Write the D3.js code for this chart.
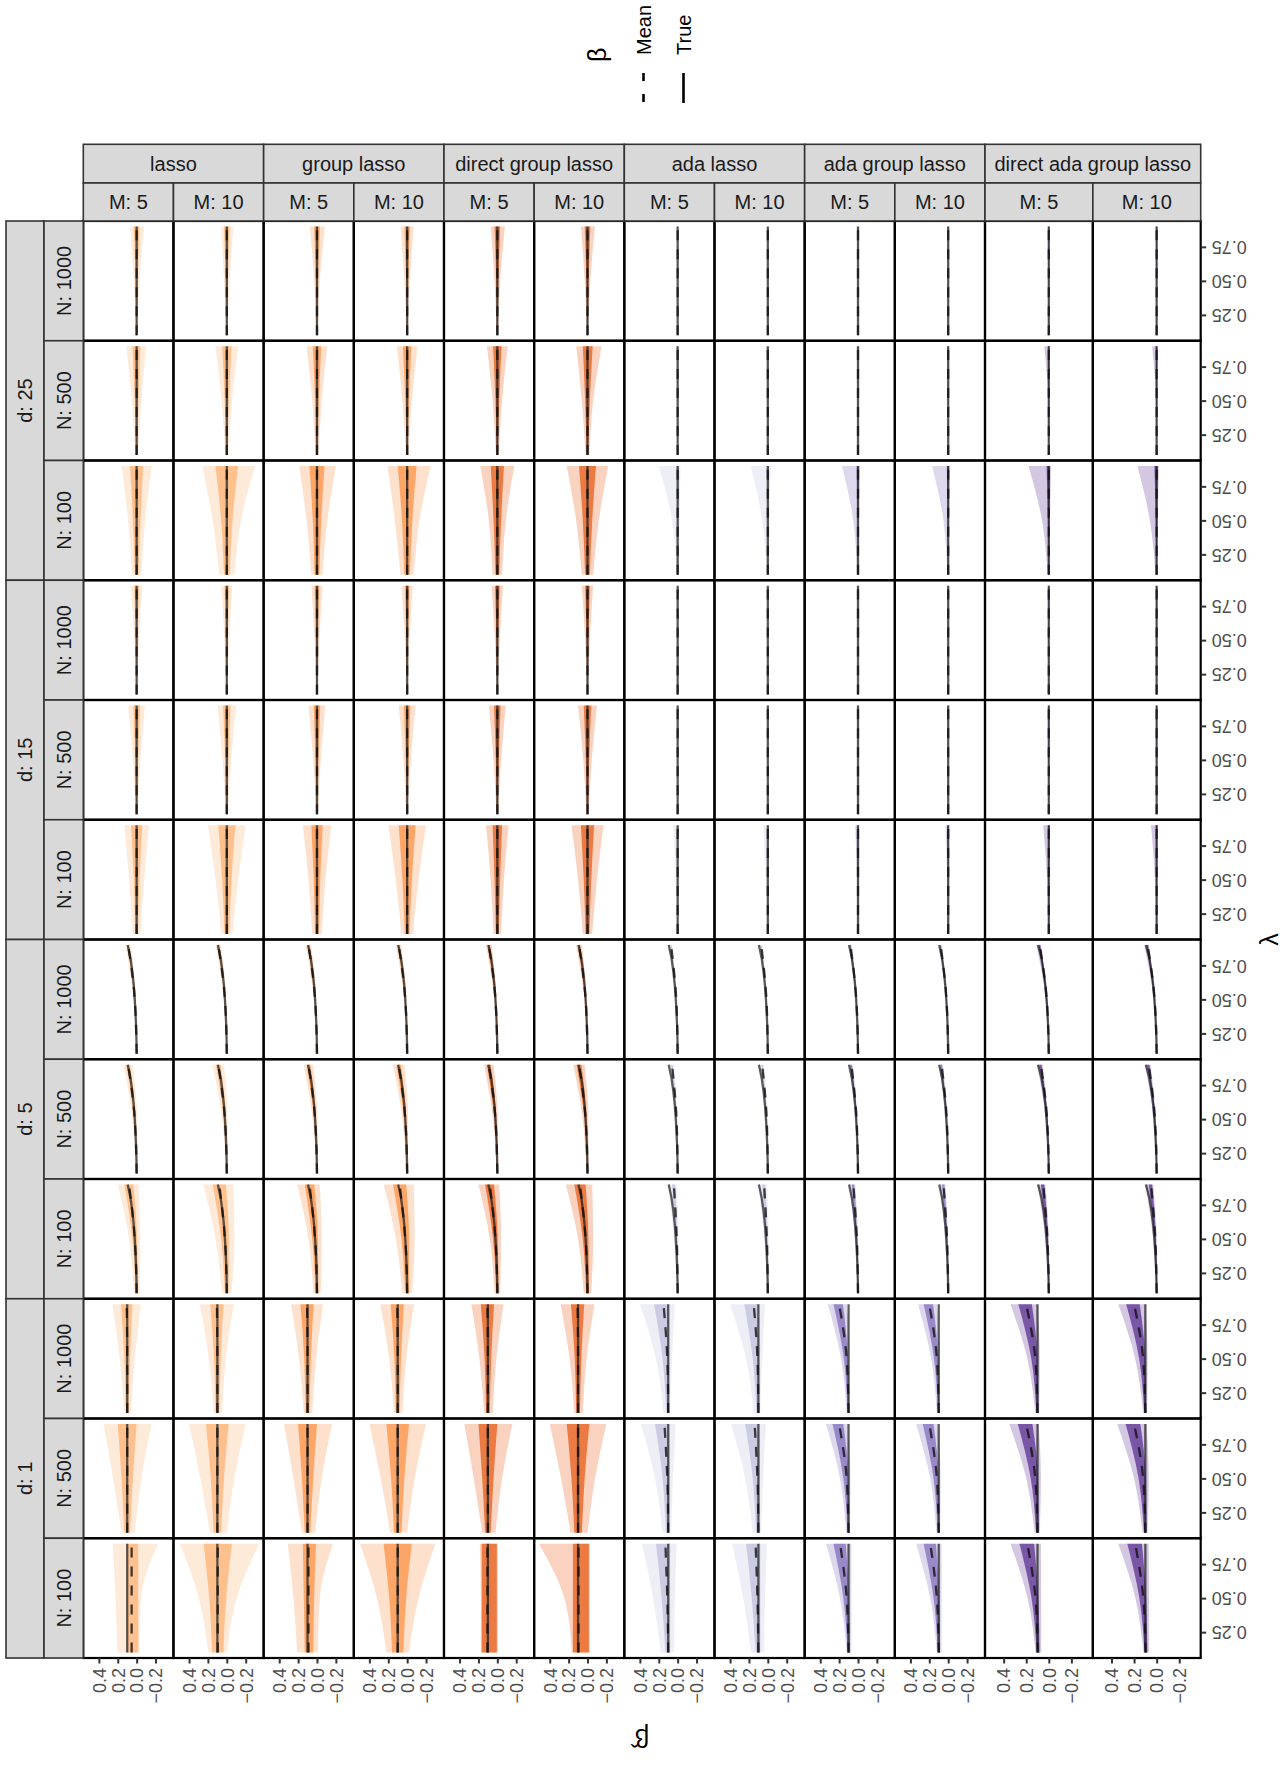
<!DOCTYPE html>
<html>
<head>
<meta charset="utf-8">
<script src="https://cdn.jsdelivr.net/npm/d3@7"></script>
<style>
  body { margin: 0; background: #fff; }
  text { font-family: "Liberation Sans", Arial, sans-serif; }
</style>
</head>
<body>
<svg id="chart" width="1288" height="1765"></svg>
<script>
// ---- facet levels ----
const methods = ["lasso", "group lasso", "direct group lasso", "ada lasso", "ada group lasso", "direct ada group lasso"];
const methodColors = ["#FDAE6B", "#FD8D3C", "#E6550D", "#BCBDDC", "#7E68B8", "#54278F"];
const mLevels = [5, 10];
const dLevels = [25, 15, 5, 1];
const nLevels = [1000, 500, 100];

// ---- axes ----
const betaTicks = [0.4, 0.2, 0.0, -0.2];
const lambdaTicks = [0.25, 0.50, 0.75];
const lambdaGrid = [0.1, 0.2, 0.3, 0.4, 0.5, 0.6, 0.7, 0.8, 0.9];
const bandLambdas = [0.1, 0.5, 0.9];

// true coefficient path for each d (order of dLevels)
const trueBeta = [
  [0, 0, 0, 0, 0, 0, 0, 0, 0],
  [0, 0, 0, 0, 0, 0, 0, 0, 0],
  [0, 0.002, 0.006, 0.012, 0.02, 0.03, 0.045, 0.065, 0.095],
  [0.1, 0.1, 0.1, 0.1, 0.1, 0.1, 0.1, 0.1, 0.1]
];

// Estimates per panel, rows ordered d (25,15,5,1) x N (1000,500,100) x M (5,10).
// Each row: mean at bandLambdas | outer spread below | outer spread above | inner spread below | inner spread above
const lassoEst = [
  [0,0,0, .006,.03,.08, .006,.03,.07, .003,.012,.03, .003,.012,.03],
  [0,0,0, .006,.03,.07, .006,.03,.06, .003,.012,.03, .003,.012,.03],
  [0,0,0, .015,.05,.10, .015,.05,.11, .006,.02,.04, .006,.02,.045],
  [0,0,0, .015,.055,.12, .015,.055,.12, .006,.022,.05, .006,.022,.05],
  [0,0,0, .05,.09,.16, .05,.09,.16, .02,.04,.07, .02,.04,.07],
  [0,0,0, .08,.15,.30, .08,.15,.26, .03,.06,.12, .03,.06,.12],
  [0,0,0, .005,.025,.06, .005,.025,.06, .002,.01,.025, .002,.01,.025],
  [0,0,0, .005,.025,.06, .005,.025,.06, .002,.01,.025, .002,.01,.025],
  [0,0,0, .01,.04,.09, .01,.04,.09, .004,.016,.035, .004,.016,.035],
  [0,0,0, .012,.045,.10, .012,.045,.10, .005,.018,.04, .005,.018,.04],
  [0,0,0, .04,.08,.13, .04,.08,.13, .015,.03,.06, .015,.03,.06],
  [0,0,0, .06,.12,.20, .06,.12,.20, .025,.05,.09, .025,.05,.09],
  [0,.02,.09, .004,.012,.03, .004,.012,.03, .002,.005,.012, .002,.005,.012],
  [0,.02,.09, .004,.012,.03, .004,.012,.03, .002,.005,.012, .002,.005,.012],
  [0,.02,.09, .008,.025,.05, .008,.025,.05, .003,.01,.02, .003,.01,.02],
  [0,.02,.09, .01,.03,.06, .01,.03,.06, .004,.012,.025, .004,.012,.025],
  [0,.02,.08, .03,.06,.10, .03,.06,.12, .012,.025,.045, .012,.025,.05],
  [0,.02,.08, .05,.10,.15, .05,.10,.17, .02,.04,.07, .02,.04,.07],
  [.1,.1,.105, .04,.08,.15, .03,.08,.15, .015,.03,.06, .015,.03,.06],
  [.1,.1,.105, .05,.09,.18, .04,.09,.18, .02,.035,.07, .02,.035,.07],
  [.1,.1,.1, .08,.15,.26, .06,.15,.25, .03,.06,.10, .03,.06,.10],
  [.1,.1,.1, .10,.18,.30, .08,.18,.30, .04,.07,.12, .04,.07,.12],
  [.053,.053,.053, .08,.10,.28, .15,.17,.20, .07,.07,.07, .05,.05,.05],
  [.096,.096,.096, .10,.20,.44, .10,.20,.40, .06,.09,.15, .06,.09,.15]
];
const groupLassoEst = [
  [0,0,0, .006,.03,.085, .006,.03,.075, .003,.012,.03, .003,.012,.03],
  [0,0,0, .006,.03,.07, .006,.03,.07, .003,.012,.03, .003,.012,.03],
  [0,0,0, .015,.05,.11, .015,.05,.11, .006,.02,.045, .006,.02,.045],
  [0,0,0, .015,.05,.11, .015,.05,.11, .006,.02,.045, .006,.02,.045],
  [0,0,0, .06,.11,.20, .06,.11,.19, .025,.045,.08, .025,.045,.08],
  [0,0,0, .07,.13,.25, .07,.13,.21, .03,.055,.10, .03,.055,.10],
  [0,0,0, .005,.025,.06, .005,.025,.06, .002,.01,.025, .002,.01,.025],
  [0,0,0, .005,.025,.06, .005,.025,.06, .002,.01,.025, .002,.01,.025],
  [0,0,0, .01,.04,.09, .01,.04,.09, .004,.016,.035, .004,.016,.035],
  [0,0,0, .01,.04,.09, .01,.04,.09, .004,.016,.035, .004,.016,.035],
  [0,0,0, .05,.09,.15, .05,.09,.15, .02,.035,.06, .02,.035,.06],
  [0,0,0, .06,.12,.20, .06,.12,.20, .025,.05,.09, .025,.05,.09],
  [0,.02,.09, .004,.012,.03, .004,.012,.03, .002,.005,.012, .002,.005,.012],
  [0,.02,.09, .004,.012,.03, .004,.012,.03, .002,.005,.012, .002,.005,.012],
  [0,.02,.09, .008,.025,.05, .008,.025,.05, .003,.01,.02, .003,.01,.02],
  [0,.02,.09, .01,.03,.06, .01,.03,.06, .004,.012,.025, .004,.012,.025],
  [0,.02,.08, .04,.07,.11, .04,.07,.13, .015,.03,.05, .015,.03,.05],
  [0,.02,.08, .05,.10,.15, .05,.10,.17, .02,.04,.07, .02,.04,.07],
  [.1,.1,.105, .05,.09,.17, .04,.09,.17, .02,.035,.07, .02,.035,.07],
  [.1,.1,.105, .05,.09,.18, .04,.09,.18, .02,.035,.07, .02,.035,.07],
  [.1,.1,.1, .08,.15,.26, .06,.15,.25, .03,.06,.10, .03,.06,.10],
  [.1,.1,.1, .10,.18,.30, .08,.18,.30, .04,.07,.12, .04,.07,.12],
  [.09,.09,.09, .10,.12,.26, .12,.16,.22, .05,.06,.08, .04,.05,.06],
  [.1,.1,.1, .12,.22,.40, .12,.22,.40, .06,.09,.15, .06,.09,.15]
];
const directGroupLassoEst = [
  [0,0,0, .006,.03,.08, .006,.03,.07, .003,.012,.03, .003,.012,.03],
  [0,0,0, .006,.03,.08, .006,.03,.07, .003,.012,.03, .003,.012,.03],
  [0,0,0, .015,.05,.11, .015,.05,.11, .006,.02,.045, .006,.02,.045],
  [0,0,0, .02,.06,.15, .02,.06,.12, .008,.025,.055, .008,.025,.05],
  [0,0,0, .05,.09,.18, .05,.09,.18, .02,.04,.07, .02,.04,.07],
  [0,0,0, .06,.12,.22, .06,.12,.22, .025,.05,.09, .025,.05,.09],
  [0,0,0, .005,.025,.06, .005,.025,.06, .002,.01,.025, .002,.01,.025],
  [0,0,0, .005,.025,.06, .005,.025,.06, .002,.01,.025, .002,.01,.025],
  [0,0,0, .01,.04,.09, .01,.04,.09, .004,.016,.035, .004,.016,.035],
  [0,0,0, .012,.045,.10, .012,.045,.10, .005,.018,.04, .005,.018,.04],
  [0,0,0, .04,.07,.12, .04,.07,.12, .015,.03,.05, .015,.03,.05],
  [0,0,0, .05,.10,.17, .05,.10,.17, .02,.04,.07, .02,.04,.07],
  [0,.02,.09, .004,.012,.03, .004,.012,.03, .002,.005,.012, .002,.005,.012],
  [0,.02,.09, .004,.012,.03, .004,.012,.03, .002,.005,.012, .002,.005,.012],
  [0,.02,.09, .008,.025,.05, .008,.025,.05, .003,.01,.02, .003,.01,.02],
  [0,.02,.09, .01,.03,.06, .01,.03,.06, .004,.012,.025, .004,.012,.025],
  [0,.02,.08, .03,.06,.10, .03,.06,.12, .012,.025,.045, .012,.025,.05],
  [0,.02,.08, .04,.08,.13, .04,.08,.15, .015,.03,.06, .015,.03,.06],
  [.1,.1,.105, .05,.09,.17, .04,.09,.17, .02,.035,.07, .02,.035,.07],
  [.1,.1,.105, .05,.09,.18, .04,.09,.18, .02,.035,.07, .02,.035,.07],
  [.1,.1,.1, .08,.15,.26, .06,.15,.25, .03,.06,.10, .03,.06,.10],
  [.1,.1,.1, .10,.18,.30, .08,.18,.30, .04,.07,.12, .04,.07,.12],
  [.105,.105,.105, .11,.11,.11, .07,.07,.08, .10,.10,.10, .06,.06,.06],
  [.095,.095,.095, .12,.12,.12, .07,.15,.42, .11,.11,.11, .06,.06,.06]
];
const adaLassoEst = [
  [0,0,0, .002,.003,.004, .002,.003,.004, .001,.002,.003, .001,.002,.003],
  [0,0,0, .002,.003,.004, .002,.003,.004, .001,.002,.003, .001,.002,.003],
  [0,0,0, .003,.005,.008, .003,.008,.02, .001,.002,.004, .001,.003,.006],
  [0,0,0, .003,.005,.008, .003,.008,.02, .001,.002,.004, .001,.003,.006],
  [0,0,0, .01,.02,.03, .01,.06,.20, .003,.006,.01, .003,.006,.012],
  [0,0,0, .01,.02,.03, .01,.06,.18, .003,.006,.01, .003,.006,.012],
  [0,0,0, .002,.003,.004, .002,.003,.004, .001,.002,.003, .001,.002,.003],
  [0,0,0, .002,.003,.004, .002,.003,.004, .001,.002,.003, .001,.002,.003],
  [0,0,0, .003,.004,.006, .003,.004,.008, .001,.002,.003, .001,.002,.004],
  [0,0,0, .003,.004,.006, .003,.004,.008, .001,.002,.003, .001,.002,.004],
  [0,0,0, .005,.01,.015, .005,.02,.05, .002,.004,.006, .002,.004,.006],
  [0,0,0, .005,.01,.015, .005,.02,.05, .002,.004,.006, .002,.004,.006],
  [0,.015,.07, .003,.006,.01, .003,.006,.02, .001,.003,.005, .001,.003,.008],
  [0,.015,.07, .003,.006,.01, .003,.006,.02, .001,.003,.005, .001,.003,.008],
  [0,.012,.06, .004,.01,.02, .004,.01,.03, .002,.004,.008, .002,.004,.01],
  [0,.012,.06, .004,.01,.02, .004,.01,.03, .002,.004,.008, .002,.004,.01],
  [0,.01,.04, .01,.02,.03, .01,.03,.06, .004,.008,.012, .004,.01,.02],
  [0,.01,.04, .01,.02,.03, .01,.03,.06, .004,.008,.012, .004,.01,.02],
  [.1,.11,.15, .02,.05,.12, .05,.12,.25, .008,.02,.05, .02,.05,.10],
  [.1,.11,.15, .02,.05,.12, .05,.12,.25, .008,.02,.05, .02,.05,.10],
  [.1,.11,.14, .03,.06,.12, .06,.13,.25, .01,.025,.05, .025,.05,.10],
  [.1,.11,.14, .03,.06,.12, .06,.13,.25, .01,.025,.05, .025,.05,.10],
  [.1,.11,.13, .06,.08,.12, .08,.15,.25, .02,.03,.05, .03,.06,.10],
  [.1,.11,.13, .06,.08,.12, .08,.15,.25, .02,.03,.05, .03,.06,.10]
];
const adaGroupLassoEst = [
  [0,0,0, .002,.003,.004, .002,.003,.004, .001,.002,.003, .001,.002,.003],
  [0,0,0, .002,.003,.004, .002,.003,.004, .001,.002,.003, .001,.002,.003],
  [0,0,0, .002,.003,.005, .002,.004,.01, .001,.002,.003, .001,.002,.004],
  [0,0,0, .002,.003,.005, .002,.004,.01, .001,.002,.003, .001,.002,.004],
  [0,0,0, .005,.01,.02, .01,.05,.17, .002,.004,.008, .003,.006,.015],
  [0,0,0, .005,.01,.02, .01,.05,.17, .002,.004,.008, .003,.006,.015],
  [0,0,0, .002,.003,.004, .002,.003,.004, .001,.002,.003, .001,.002,.003],
  [0,0,0, .002,.003,.004, .002,.003,.004, .001,.002,.003, .001,.002,.003],
  [0,0,0, .002,.003,.004, .002,.003,.006, .001,.002,.003, .001,.002,.003],
  [0,0,0, .002,.003,.004, .002,.003,.006, .001,.002,.003, .001,.002,.003],
  [0,0,0, .004,.006,.01, .004,.01,.03, .002,.003,.005, .002,.004,.006],
  [0,0,0, .004,.006,.01, .004,.01,.03, .002,.003,.005, .002,.004,.006],
  [0,.018,.08, .003,.006,.01, .003,.006,.015, .001,.003,.005, .001,.003,.006],
  [0,.018,.08, .003,.006,.01, .003,.006,.015, .001,.003,.005, .001,.003,.006],
  [0,.015,.07, .004,.008,.015, .004,.01,.025, .002,.004,.006, .002,.004,.01],
  [0,.015,.07, .004,.008,.015, .004,.01,.025, .002,.004,.006, .002,.004,.01],
  [0,.012,.05, .006,.012,.02, .006,.02,.04, .003,.006,.01, .003,.008,.015],
  [0,.012,.05, .006,.012,.02, .006,.02,.04, .003,.006,.01, .003,.008,.015],
  [.1,.12,.2, .01,.03,.08, .02,.06,.12, .005,.015,.04, .01,.03,.06],
  [.1,.12,.2, .01,.03,.08, .02,.06,.12, .005,.015,.04, .01,.03,.06],
  [.1,.12,.2, .015,.04,.09, .025,.07,.14, .007,.02,.045, .012,.035,.07],
  [.1,.12,.2, .015,.04,.09, .025,.07,.14, .007,.02,.045, .012,.035,.07],
  [.1,.12,.19, .03,.05,.12, .02,.07,.15, .015,.025,.06, .01,.035,.07],
  [.1,.12,.19, .03,.05,.12, .02,.07,.15, .015,.025,.06, .01,.035,.07]
];
const directAdaGroupLassoEst = [
  [0,0,0, .002,.003,.004, .002,.003,.004, .001,.002,.003, .001,.002,.003],
  [0,0,0, .002,.003,.004, .002,.003,.004, .001,.002,.003, .001,.002,.003],
  [0,0,0, .002,.003,.005, .002,.006,.04, .001,.002,.003, .001,.003,.006],
  [0,0,0, .002,.003,.005, .002,.006,.04, .001,.002,.003, .001,.003,.006],
  [0,0,0, .005,.01,.02, .01,.06,.18, .002,.004,.008, .003,.008,.02],
  [0,0,0, .005,.01,.02, .01,.06,.17, .002,.004,.008, .003,.008,.02],
  [0,0,0, .002,.003,.004, .002,.003,.004, .001,.002,.003, .001,.002,.003],
  [0,0,0, .002,.003,.004, .002,.003,.004, .001,.002,.003, .001,.002,.003],
  [0,0,0, .002,.003,.004, .002,.003,.006, .001,.002,.003, .001,.002,.003],
  [0,0,0, .002,.003,.004, .002,.003,.006, .001,.002,.003, .001,.002,.003],
  [0,0,0, .004,.006,.01, .004,.015,.05, .002,.003,.005, .002,.004,.006],
  [0,0,0, .004,.006,.01, .004,.015,.05, .002,.003,.005, .002,.004,.006],
  [0,.018,.08, .003,.006,.01, .003,.01,.03, .001,.003,.005, .001,.004,.01],
  [0,.018,.08, .003,.006,.01, .003,.01,.03, .001,.003,.005, .001,.004,.01],
  [0,.015,.07, .004,.008,.015, .004,.012,.035, .002,.004,.006, .002,.005,.012],
  [0,.015,.07, .004,.008,.015, .004,.012,.035, .002,.004,.006, .002,.005,.012],
  [0,.012,.05, .006,.012,.02, .006,.02,.05, .003,.006,.01, .003,.008,.02],
  [0,.012,.05, .006,.012,.02, .006,.02,.05, .003,.006,.01, .003,.008,.02],
  [.1,.12,.2, .015,.04,.1, .02,.07,.14, .007,.02,.05, .01,.035,.07],
  [.1,.12,.2, .015,.04,.1, .02,.07,.14, .007,.02,.05, .01,.035,.07],
  [.1,.12,.2, .02,.05,.11, .025,.08,.15, .01,.025,.055, .012,.04,.075],
  [.1,.12,.2, .02,.05,.11, .025,.08,.15, .01,.025,.055, .012,.04,.075],
  [.097,.118,.19, .03,.05,.12, .02,.07,.15, .015,.025,.06, .01,.035,.07],
  [.097,.118,.19, .03,.05,.12, .02,.07,.15, .015,.025,.06, .01,.035,.07]
];
const estimates = [lassoEst, groupLassoEst, directGroupLassoEst, adaLassoEst, adaGroupLassoEst, directAdaGroupLassoEst];

// ---- layout ----
const svg = d3.select("#chart");
const gridLeft = 83.3, gridTop = 221, rowH = 119.75;
const colWidths = [90.17, 90.17, 90.17, 90.17, 90.17, 90.17, 90.17, 90.17, 90.17, 90.17, 107.85, 107.85];
const colX = colWidths.reduce((acc, w, i) => { acc.push(acc[i] + w); return acc; }, [gridLeft]);
const nRows = dLevels.length * nLevels.length;
const gridRight = colX[colX.length - 1];
const gridBottom = gridTop + nRows * rowH;
const stripFill = "#D9D9D9", stripStroke = "#333333";
const tickColor = "#333333", labelColor = "#4D4D4D";

const betaScaleFor = c => d3.scaleLinear().domain([0.565, -0.39]).range([colX[c], colX[c + 1]]);
const lambdaScaleFor = r => d3.scaleLinear().domain([0.06, 0.94]).range([gridTop + (r + 1) * rowH, gridTop + r * rowH]);

const defs = svg.append("defs");
const panelsG = svg.append("g");

methods.forEach((method, mi) => {
  mLevels.forEach((mv, mj) => {
    const c = mi * 2 + mj;
    const xS = betaScaleFor(c);
    dLevels.forEach((dv, di) => {
      nLevels.forEach((nv, ni) => {
        const r = di * nLevels.length + ni;
        const yS = lambdaScaleFor(r);
        const row = estimates[mi][r * 2 + mj];
        const pts = bandLambdas.map((l, k) => ({
          l, m: row[k],
          oLo: row[k] - row[3 + k], oHi: row[k] + row[6 + k],
          iLo: row[k] - row[9 + k], iHi: row[k] + row[12 + k]
        }));
        const clipId = `clip-${c}-${r}`;
        defs.append("clipPath").attr("id", clipId).append("rect")
          .attr("x", colX[c]).attr("y", gridTop + r * rowH)
          .attr("width", colWidths[c]).attr("height", rowH);
        const g = panelsG.append("g").attr("clip-path", `url(#${clipId})`);
        const outer = d3.area().y(d => yS(d.l)).x0(d => xS(d.oLo)).x1(d => xS(d.oHi)).curve(d3.curveMonotoneY);
        const inner = d3.area().y(d => yS(d.l)).x0(d => xS(d.iLo)).x1(d => xS(d.iHi)).curve(d3.curveMonotoneY);
        g.append("path").datum(pts).attr("d", outer).attr("fill", methodColors[mi]).attr("fill-opacity", 0.26);
        g.append("path").datum(pts).attr("d", inner).attr("fill", methodColors[mi]).attr("fill-opacity", 0.7);
        // true coefficient path
        const tl = d3.line().x(d => xS(d.b)).y(d => yS(d.l));
        g.append("path").datum(lambdaGrid.map((l, k) => ({ l, b: trueBeta[di][k] })))
          .attr("d", tl).attr("fill", "none").attr("stroke", "#1a1a1a")
          .attr("stroke-opacity", 0.7).attr("stroke-width", 2.3);
        // mean of the estimates
        const ml = d3.line().x(d => xS(d.m)).y(d => yS(d.l)).curve(d3.curveMonotoneY);
        g.append("path").datum(pts).attr("d", ml).attr("fill", "none")
          .attr("stroke", "#111").attr("stroke-opacity", 0.8).attr("stroke-width", 2.3)
          .attr("stroke-dasharray", "10,9");
      });
    });
  });
});

// panel borders
for (let c = 0; c < colWidths.length; c++) {
  for (let r = 0; r < nRows; r++) {
    svg.append("rect").attr("x", colX[c]).attr("y", gridTop + r * rowH)
      .attr("width", colWidths[c]).attr("height", rowH)
      .attr("fill", "none").attr("stroke", "#000").attr("stroke-width", 2.2);
  }
}

// ---- top strips (method, then M) ----
const stripTop = 144.3, stripMid = 183, stripH1 = stripMid - stripTop, stripH2 = gridTop - stripMid;
methods.forEach((method, mi) => {
  const x0 = colX[mi * 2], x1 = colX[mi * 2 + 2];
  svg.append("rect").attr("x", x0).attr("y", stripTop).attr("width", x1 - x0).attr("height", stripH1)
    .attr("fill", stripFill).attr("stroke", stripStroke).attr("stroke-width", 1.6);
  svg.append("text").attr("x", (x0 + x1) / 2).attr("y", stripTop + stripH1 / 2).attr("dy", "0.35em")
    .attr("text-anchor", "middle").attr("font-size", 20).attr("fill", "#1a1a1a").text(method);
  mLevels.forEach((mv, mj) => {
    const c = mi * 2 + mj;
    svg.append("rect").attr("x", colX[c]).attr("y", stripMid).attr("width", colWidths[c]).attr("height", stripH2)
      .attr("fill", stripFill).attr("stroke", stripStroke).attr("stroke-width", 1.6);
    svg.append("text").attr("x", colX[c] + colWidths[c] / 2).attr("y", stripMid + stripH2 / 2).attr("dy", "0.35em")
      .attr("text-anchor", "middle").attr("font-size", 20).attr("fill", "#1a1a1a").text(`M: ${mv}`);
  });
});

// ---- left strips (d, then N) ----
const dStripX = 6, nStripX = 44;
dLevels.forEach((dv, di) => {
  const y0 = gridTop + di * nLevels.length * rowH, h = nLevels.length * rowH;
  svg.append("rect").attr("x", dStripX).attr("y", y0).attr("width", nStripX - dStripX).attr("height", h)
    .attr("fill", stripFill).attr("stroke", stripStroke).attr("stroke-width", 1.6);
  svg.append("text").attr("transform", `translate(${(dStripX + nStripX) / 2},${y0 + h / 2}) rotate(-90)`)
    .attr("dy", "0.35em").attr("text-anchor", "middle").attr("font-size", 20).attr("fill", "#1a1a1a").text(`d: ${dv}`);
  nLevels.forEach((nv, ni) => {
    const r = di * nLevels.length + ni;
    const y = gridTop + r * rowH;
    svg.append("rect").attr("x", nStripX).attr("y", y).attr("width", gridLeft - nStripX).attr("height", rowH)
      .attr("fill", stripFill).attr("stroke", stripStroke).attr("stroke-width", 1.6);
    svg.append("text").attr("transform", `translate(${(nStripX + gridLeft) / 2},${y + rowH / 2}) rotate(-90)`)
      .attr("dy", "0.35em").attr("text-anchor", "middle").attr("font-size", 20).attr("fill", "#1a1a1a").text(`N: ${nv}`);
  });
});

// ---- bottom axes (beta-hat) ----
const fmtBeta = d3.format(".1f");
colWidths.forEach((w, c) => {
  const ax = svg.append("g").attr("transform", `translate(0,${gridBottom})`)
    .call(d3.axisBottom(betaScaleFor(c)).tickValues(betaTicks).tickFormat(fmtBeta).tickSize(5.5).tickPadding(0));
  ax.select(".domain").remove();
  ax.selectAll(".tick line").attr("stroke", tickColor).attr("stroke-width", 2);
  ax.selectAll(".tick text")
    .attr("y", null).attr("dy", "0.35em")
    .attr("transform", "translate(0,10) rotate(-90)")
    .attr("text-anchor", "end").attr("font-size", 18).attr("fill", labelColor)
    .attr("font-family", "Liberation Sans, Arial, sans-serif");
});

// ---- right axes (lambda) ----
const fmtLambda = d3.format(".2f");
for (let r = 0; r < nRows; r++) {
  const ax = svg.append("g").attr("transform", `translate(${gridRight},0)`)
    .call(d3.axisRight(lambdaScaleFor(r)).tickValues(lambdaTicks).tickFormat(fmtLambda).tickSize(5.5).tickPadding(0));
  ax.select(".domain").remove();
  ax.selectAll(".tick line").attr("stroke", tickColor).attr("stroke-width", 2);
  ax.selectAll(".tick text")
    .attr("x", null).attr("dy", "0.35em")
    .attr("transform", "translate(11,0) rotate(180)")
    .attr("text-anchor", "end").attr("font-size", 18).attr("fill", labelColor)
    .attr("font-family", "Liberation Sans, Arial, sans-serif");
}

// ---- axis titles ----
svg.append("text").attr("transform", `translate(${(gridLeft + gridRight) / 2},1738) rotate(180)`)
  .attr("text-anchor", "middle").attr("dy", "0.35em").attr("font-size", 25).attr("fill", "#000").text("\u03B2\u0302");
svg.append("text").attr("transform", `translate(1269,${(gridTop + gridBottom) / 2}) rotate(-90)`)
  .attr("text-anchor", "middle").attr("dy", "0.35em").attr("font-size", 25).attr("fill", "#000").text("\u03BB");

// ---- legend ----
const legend = svg.append("g");
legend.append("text").attr("transform", "translate(597,62) rotate(-90)")
  .attr("dy", "0.35em").attr("font-size", 25).attr("fill", "#000").text("\u03B2");
const legendItems = [
  { label: "Mean", x: 643.5, dash: "8,13" },
  { label: "True", x: 683.5, dash: null }
];
legendItems.forEach(it => {
  legend.append("line").attr("x1", it.x).attr("x2", it.x).attr("y1", 73).attr("y2", 103)
    .attr("stroke", "#000").attr("stroke-width", 2.6)
    .attr("stroke-dasharray", it.dash);
  legend.append("text").attr("transform", `translate(${it.x},55) rotate(-90)`)
    .attr("dy", "0.35em").attr("font-size", 20).attr("fill", "#000").text(it.label);
});
</script>
</body>
</html>
